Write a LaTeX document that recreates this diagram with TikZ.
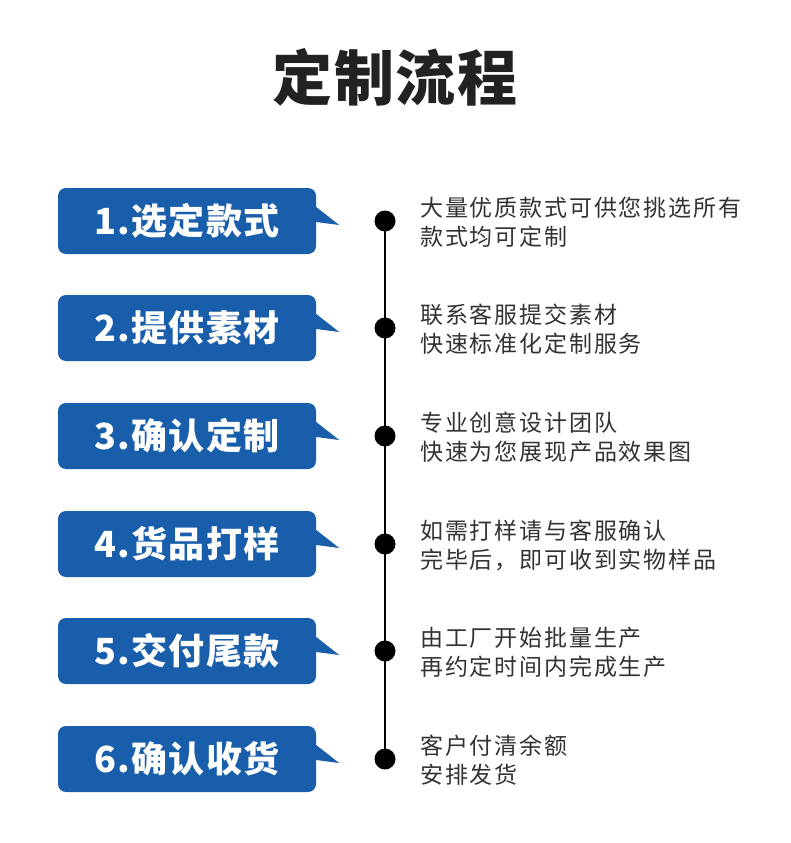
\documentclass[tikz,border=0pt]{standalone}
\usepackage{fontspec}
\setmainfont{Noto Sans CJK SC}
\usepackage{tikz}
\definecolor{stepblue}{RGB}{25,94,170}
\definecolor{titlegray}{RGB}{34,34,34}
\definecolor{notegray}{RGB}{51,51,51}
\tikzset{
  stepbox/.style={fill=stepblue, rounded corners=8pt, minimum width=258pt,
    minimum height=66pt, inner sep=0pt, text=white,
    font=\fontsize{36}{40}\selectfont\bfseries\addfontfeatures{LetterSpace=4}},
  stepdot/.style={circle, fill=black, minimum size=21pt, inner sep=0pt},
  stepnote/.style={anchor=west, align=left, inner sep=0pt, text=notegray,
    font=\fontsize{23}{29}\selectfont\addfontfeatures{LetterSpace=8}}
}
\newcommand{\tail}[1]{\fill[stepblue] ([yshift=14pt]#1.east) -- ([xshift=23pt,yshift=-4pt]#1.east) -- ([yshift=-1pt]#1.east) -- cycle;}

\begin{document}
\begin{tikzpicture}[x=1pt,y=-1pt]
\useasboundingbox[fill=white] (0,0) rectangle (790,843);
%titolo
\node (title) at (395,77) [text=titlegray, font=\fontsize{60}{64}\selectfont\bfseries\addfontfeatures{LetterSpace=3}] {定制流程};
% passo 1
\node (s1) at (187,221) [stepbox] {1.选定款式};
\tail{s1}
\node (d1) at (385,221) [stepdot] {};
\node (n1) at (420,222) [stepnote] {大量优质款式可供您挑选所有\\款式均可定制};
% passo 2
\node (s2) at (187,328) [stepbox] {2.提供素材};
\tail{s2}
\node (d2) at (385,328) [stepdot] {};
\node (n2) at (420,329) [stepnote] {联系客服提交素材\\快速标准化定制服务};
% passo 3
\node (s3) at (187,436) [stepbox] {3.确认定制};
\tail{s3}
\node (d3) at (385,436) [stepdot] {};
\node (n3) at (420,437) [stepnote] {专业创意设计团队\\快速为您展现产品效果图};
% passo 4
\node (s4) at (187,544) [stepbox] {4.货品打样};
\tail{s4}
\node (d4) at (385,544) [stepdot] {};
\node (n4) at (420,545) [stepnote] {如需打样请与客服确认\\完毕后，即可收到实物样品};
% passo 5
\node (s5) at (187,651) [stepbox] {5.交付尾款};
\tail{s5}
\node (d5) at (385,651) [stepdot] {};
\node (n5) at (420,652) [stepnote] {由工厂开始批量生产\\再约定时间内完成生产};
% passo 6
\node (s6) at (187,759) [stepbox] {6.确认收货};
\tail{s6}
\node (d6) at (385,759) [stepdot] {};
\node (n6) at (420,760) [stepnote] {客户付清余额\\安排发货};
% linea verticale
\draw[line width=2pt] (d1.center) -- (d6.center);
\end{tikzpicture}
\end{document}
